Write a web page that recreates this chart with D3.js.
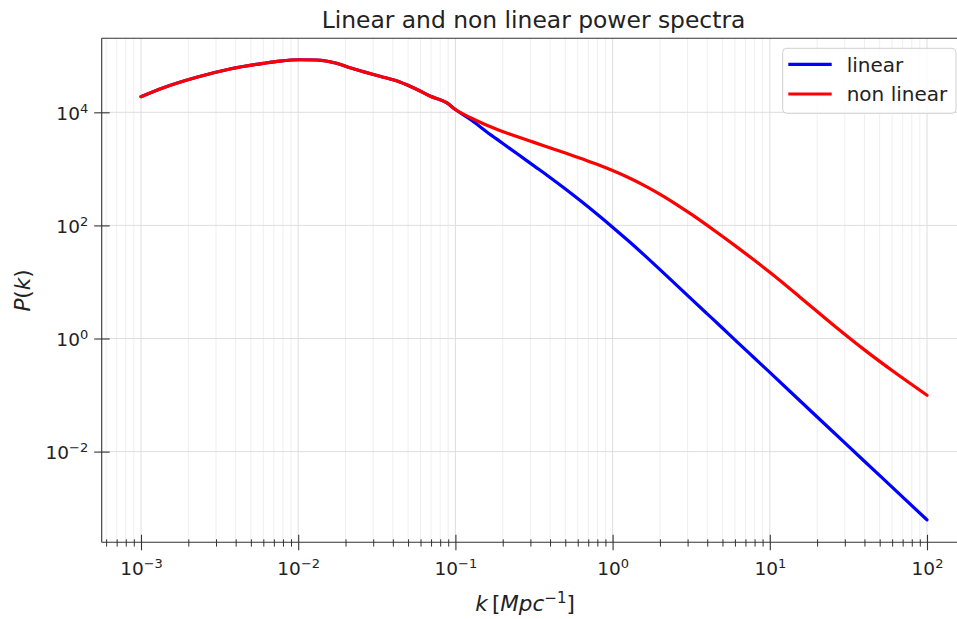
<!DOCTYPE html>
<html><head><meta charset="utf-8">
<script src="https://cdn.jsdelivr.net/npm/d3@7"></script>
<style>
body{margin:0;background:#fff}
text{font-family:"DejaVu Sans",sans-serif;fill:#222}
</style>
</head><body>
<svg id="c" width="957" height="619"></svg>
<script>
// ---- data ----
const kValues    = [0.001, 0.00139, 0.00226, 0.00368, 0.0060, 0.00765, 0.01015, 0.0131, 0.01755, 0.02133, 0.02591, 0.0331, 0.0443, 0.0566, 0.0688, 0.0879, 0.1, 0.1259, 0.1585, 0.1995, 0.2512, 0.3162, 0.3981, 0.5012, 0.631, 0.7943, 1, 1.259, 1.585, 1.995, 2.512, 3.162, 3.981, 5.012, 6.31, 7.943, 10, 15.85, 25.12, 39.81, 63.1, 100];
const linearP    = [18900, 27200, 41600, 58300, 73600, 80700, 85100, 84100, 73600, 61200, 52400, 43500, 34400, 25600, 19400, 14800, 11200, 7310, 4500, 2840, 1790, 1130, 712, 440, 267, 159, 93.0, 53.4, 30.1, 16.7, 9.16, 5.02, 2.76, 1.52, 0.829, 0.456, 0.251, 0.0754, 0.0227, 0.00682, 0.00206, 0.00062];
const nonLinearP = [18900, 27200, 41600, 58300, 73600, 80700, 85100, 84100, 73600, 61200, 52400, 43500, 34400, 25600, 19400, 14800, 11200, 7930, 5910, 4590, 3650, 2940, 2370, 1910, 1520, 1210, 935, 704, 511, 357, 241, 158, 101, 63.7, 39.7, 24.4, 14.8, 5.16, 1.77, 0.636, 0.245, 0.0993];
const xMajorTicks = [1e-3, 1e-2, 1e-1, 1, 10, 100];
const xTickExponents = ["\u22123", "\u22122", "\u22121", "0", "1", "2"];
const yMajorTicks = [1e-2, 1, 1e2, 1e4];
const yTickExponents = ["\u22122", "0", "2", "4"];
const seriesNames = ["linear", "non linear"];
const seriesColors = ["#0000ff", "#ff0000"];
const titleText = "Linear and non linear power spectra";

// ---- layout ----
const svg = d3.select("#c");
svg.append("rect").attr("width",957).attr("height",619).attr("fill","#fff");
const L=101.7, R=966.3, T=38.3, B=542.3;
const x = d3.scaleLog().domain([Math.pow(10,-3.25), Math.pow(10,2.25)]).range([L,R]);
const y = d3.scaleLog().domain([Math.pow(10,-3.604), Math.pow(10,5.309)]).range([B,T]);

// minor x ticks
const xMinor = [];
for (let e=-4; e<=2; e++) for (let m=2; m<=9; m++) {
  const v = m*Math.pow(10,e);
  if (v > x.domain()[0] && v < x.domain()[1]) xMinor.push(v);
}

// grid
const grid = svg.append("g");
grid.selectAll(".gxm").data(xMinor).join("line")
  .attr("x1",d=>x(d)).attr("x2",d=>x(d)).attr("y1",T).attr("y2",B)
  .attr("stroke","#efefef").attr("stroke-width",1);
grid.selectAll(".gxM").data(xMajorTicks).join("line")
  .attr("x1",d=>x(d)).attr("x2",d=>x(d)).attr("y1",T).attr("y2",B)
  .attr("stroke","#dedede").attr("stroke-width",1);
grid.selectAll(".gy").data(yMajorTicks).join("line")
  .attr("x1",L).attr("x2",R).attr("y1",d=>y(d)).attr("y2",d=>y(d))
  .attr("stroke","#dedede").attr("stroke-width",1);

// curves
const series = [linearP, nonLinearP];
const line = d3.line().x(d=>x(d[0])).y(d=>y(d[1])).curve(d3.curveMonotoneX);
series.forEach((vals,i)=>{
  svg.append("path").datum(kValues.map((k,j)=>[k, vals[j]]))
    .attr("d", line).attr("fill","none")
    .attr("stroke", seriesColors[i]).attr("stroke-width",3.2)
    .attr("stroke-linejoin","round").attr("stroke-linecap","round");
});

// spines
const sp = svg.append("g").attr("stroke","#333").attr("stroke-width",1.1);
sp.append("line").attr("x1",L).attr("x2",L).attr("y1",T).attr("y2",B);
sp.append("line").attr("x1",L).attr("x2",R).attr("y1",B).attr("y2",B);
sp.append("line").attr("x1",L).attr("x2",R).attr("y1",T).attr("y2",T);
sp.append("line").attr("x1",R).attr("x2",R).attr("y1",T).attr("y2",B);

// x axis (major)
const gx = svg.append("g").attr("transform",`translate(0,${B})`)
  .call(d3.axisBottom(x).tickValues(xMajorTicks).tickSize(7.5).tickFormat(()=>""));
gx.select(".domain").remove();
gx.selectAll(".tick line").attr("y1",-7.5).attr("y2",8).attr("stroke","#333").attr("stroke-width",1.1);
gx.selectAll(".tick text").remove();
gx.selectAll(".tick").each(function(d,i){
  const t = d3.select(this).append("text").attr("y",32.7).attr("text-anchor","middle")
    .attr("font-size",18.5).attr("fill","#222");
  t.append("tspan").text("10");
  t.append("tspan").attr("dy",-7).attr("font-size",13).text(xTickExponents[i]);
});
// x axis (minor)
const gxm = svg.append("g").attr("transform",`translate(0,${B})`)
  .call(d3.axisBottom(x).tickValues(xMinor).tickSize(4).tickFormat(()=>""));
gxm.select(".domain").remove();
gxm.selectAll(".tick line").attr("y1",-3).attr("y2",4.3).attr("stroke","#333").attr("stroke-width",1);

// y axis
const gy = svg.append("g").attr("transform",`translate(${L},0)`)
  .call(d3.axisLeft(y).tickValues(yMajorTicks).tickSize(7.5).tickFormat(()=>""));
gy.select(".domain").remove();
gy.selectAll(".tick line").attr("x1",-7.5).attr("x2",8).attr("stroke","#333").attr("stroke-width",1.1);
gy.selectAll(".tick text").remove();
gy.selectAll(".tick").each(function(d,i){
  const t = d3.select(this).append("text").attr("x",-13.5).attr("y",7.2).attr("text-anchor","end")
    .attr("font-size",18.5).attr("fill","#222");
  t.append("tspan").text("10");
  t.append("tspan").attr("dy",-7).attr("font-size",13).text(yTickExponents[i]);
});

// title
svg.append("text").attr("x",(L+R)/2 - 0.5).attr("y",28).attr("text-anchor","middle")
  .attr("font-size",23.4).text(titleText);

// x label
const xl = svg.append("text").attr("x",525).attr("y",611).attr("text-anchor","middle").attr("font-size",21.5);
xl.append("tspan").attr("font-style","italic").text("k");
xl.append("tspan").text("\u2009[");
xl.append("tspan").attr("font-style","italic").text("Mpc");
xl.append("tspan").attr("dy",-8.5).attr("font-size",15).text("\u22121");
xl.append("tspan").attr("dy",8.5).text("]");

// y label
const yl = svg.append("text").attr("transform","translate(30,290.5) rotate(-90)")
  .attr("text-anchor","middle").attr("font-size",21.5);
yl.append("tspan").attr("font-style","italic").text("P");
yl.append("tspan").text("(");
yl.append("tspan").attr("font-style","italic").text("k");
yl.append("tspan").text(")");

// legend
const lg = svg.append("g");
lg.append("rect").attr("x",782.7).attr("y",48.3).attr("width",173.3).attr("height",65).attr("rx",4)
  .attr("fill","#fff").attr("fill-opacity",0.8).attr("stroke","#d0d0d0").attr("stroke-width",1);
seriesNames.forEach((name,i)=>{
  const yy = 64.3 + i*29.7;
  lg.append("line").attr("x1",788.3).attr("x2",831.7).attr("y1",yy).attr("y2",yy)
    .attr("stroke",seriesColors[i]).attr("stroke-width",3.2);
  lg.append("text").attr("x",846.7).attr("y",yy+7.2).attr("font-size",20).text(name);
});
</script>
</body></html>
